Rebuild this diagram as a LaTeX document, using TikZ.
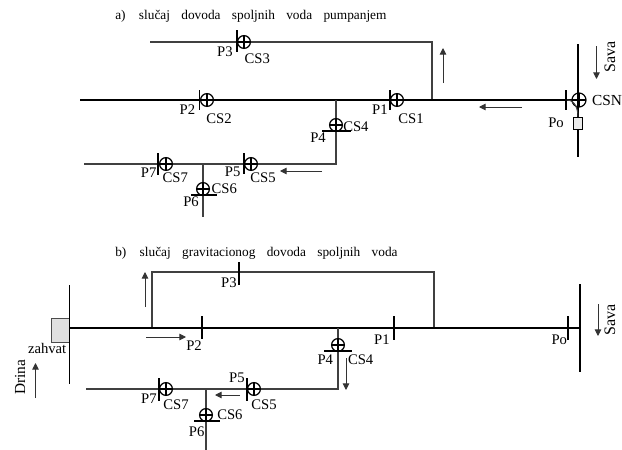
\documentclass[tikz,border=0pt]{standalone}
\usepackage{fontspec}
\setmainfont{Liberation Serif}
\usetikzlibrary{arrows.meta, positioning}

\begin{document}
\begin{tikzpicture}[
        x=0.75pt, y=-0.75pt,
        % Text sizes
        lbl/.style = {font=\fontsize{11}{12}\selectfont, inner sep=0pt},
        river/.style = {font=\fontsize{12}{14}\selectfont, inner sep=0pt, rotate=90},
        head/.style = {font=\fontsize{10}{11}\selectfont, inner sep=0pt, anchor=west},
        % Pipes
        pipe/.style = {line width=1.2pt, draw=black},
        branch/.style = {line width=0.8pt, draw=black!75},
        tick/.style = {line width=1pt, draw=black},
        bank/.style = {line width=1.2pt, draw=black},
        % Flow arrows
        flow/.style = {-{Stealth[length=5pt, width=5pt, inset=0pt]}, line width=0.7pt, draw=black!80},
        % Pumping station
        gauge/.style = {
            circle, draw, line width=0.9pt, inner sep=0pt, minimum size=9.6pt,
            path picture={
                \draw [line width=0.9pt] (path picture bounding box.north) -- (path picture bounding box.south);
                \draw [line width=0.9pt] (path picture bounding box.west) -- (path picture bounding box.east);
            }
        }
    ]
        \clip (0,0) rectangle (622,450);

        % a) Points of the network
        \coordinate (mainLa) at (80,100);
        \coordinate (mainRa) at (578,100);
        \coordinate (topLa) at (150,42);
        \coordinate (topRa) at (432,42);
        \coordinate (topDa) at (432,100);
        \coordinate (brUa) at (336,100);
        \coordinate (brCa) at (336,164);
        \coordinate (lowLa) at (84,164);
        \coordinate (teeUa) at (203,164);
        \coordinate (teeDa) at (203,217);
        \coordinate (savaTa) at (578,44);
        \coordinate (savaBa) at (578,157);

        % a) Pipes
        \draw [branch] (topLa) -- (topRa) -- (topDa);
        \draw [pipe] (mainLa) -- (mainRa);
        \draw [branch] (brUa) -- (brCa) -- (lowLa);
        \draw [branch] (teeUa) -- (teeDa);
        \draw [bank] (savaTa) -- (savaBa);

        % a) Stations
        \node (gS1a) [gauge] at (397,100) {};
        \node (gS2a) [gauge] at (207,100) {};
        \node (gS3a) [gauge] at (244,42) {};
        \node (gS4a) [gauge] at (336,125) {};
        \node (gS5a) [gauge] at (251,164) {};
        \node (gS6a) [gauge] at (203,189) {};
        \node (gS7a) [gauge] at (166,164) {};
        \node (gSNa) [gauge, minimum size=10.5pt] at (579,100) {};
        \node (boxa) [draw, line width=0.7pt, minimum width=6.5pt, minimum height=9pt, inner sep=0pt, fill=black!8] at (578,123) {};

        % a) Measuring profiles
        \coordinate (p1Ta) at (390,90); \coordinate (p1Ba) at (390,110);
        \coordinate (p2Ta) at (199.5,90); \coordinate (p2Ba) at (199.5,110);
        \coordinate (p3Ta) at (237,30); \coordinate (p3Ba) at (237,52);
        \coordinate (p4La) at (322,131); \coordinate (p4Ra) at (351,131);
        \coordinate (p5Ta) at (244,153); \coordinate (p5Ba) at (244,174);
        \coordinate (p6La) at (191,195); \coordinate (p6Ra) at (217,195);
        \coordinate (p7Ta) at (158,153); \coordinate (p7Ba) at (158,175);
        \coordinate (poTa) at (566,90); \coordinate (poBa) at (566,110);
        \draw [tick] (p1Ta) -- (p1Ba);
        \draw [tick] (p2Ta) -- (p2Ba);
        \draw [tick] (p3Ta) -- (p3Ba);
        \draw [tick] (p4La) -- (p4Ra);
        \draw [tick] (p5Ta) -- (p5Ba);
        \draw [tick] (p6La) -- (p6Ra);
        \draw [tick] (p7Ta) -- (p7Ba);
        \draw [tick] (poTa) -- (poBa);
        \draw [branch] (567,100) to[out=0, in=90] (boxa);

        % a) Labels
        \node (heada) [head] at (115,16) {\spaceskip=0.85em\relax a)\hspace{1em}slučaj dovoda spoljnih voda pumpanjem};
        \node [lbl, left=1.5pt of p1Ba] {P1};
        \node [lbl, left=3pt of p2Ba] {P2};
        \node [lbl, left=3pt of p3Ba] {P3};
        \node [lbl, below=1.5pt of p4La, xshift=-3pt] {P4};
        \node [lbl, left=2.5pt of p5Ba, yshift=1.5pt] {P5};
        \node [lbl, below=1.5pt of p6La, xshift=0pt] {P6};
        \node [lbl, left=1pt of p7Ba, yshift=2pt] {P7};
        \node [lbl, below=6pt of poBa, xshift=-7.5pt] {Po};
        \node [lbl, below=5pt of gS1a, xshift=10.5pt] {CS1};
        \node [lbl, below=5pt of gS2a, xshift=9pt] {CS2};
        \node [lbl, below=3.5pt of gS3a, xshift=10pt] {CS3};
        \node [lbl, right=0pt of gS4a, yshift=-1.5pt] {CS4};
        \node [lbl, below=1.5pt of gS5a, xshift=9pt] {CS5};
        \node [lbl, right=1pt of gS6a] {CS6};
        \node [lbl, below=1.5pt of gS7a, xshift=7pt] {CS7};
        \node [lbl, right=4pt of gSNa, font=\fontsize{11.5}{14}\selectfont] {CSN};
        \node [river] at (610,57) {Sava};

        % a) Flow directions
        \coordinate (f1Sa) at (443,83); \coordinate (f1Ea) at (443,48);
        \coordinate (f2Sa) at (522,107); \coordinate (f2Ea) at (479,107);
        \coordinate (f3Sa) at (322,171); \coordinate (f3Ea) at (280,171);
        \coordinate (f4Sa) at (596.5,46); \coordinate (f4Ea) at (596.5,79);
        \draw [flow] (f1Sa) -- (f1Ea);
        \draw [flow] (f2Sa) -- (f2Ea);
        \draw [flow] (f3Sa) -- (f3Ea);
        \draw [flow] (f4Sa) -- (f4Ea);

        % b) Points of the network
        \coordinate (mainLb) at (70,328);
        \coordinate (mainRb) at (580,328);
        \coordinate (topUb) at (152,328);
        \coordinate (topLb) at (152,272);
        \coordinate (topRb) at (434,272);
        \coordinate (topDb) at (434,328);
        \coordinate (brUb) at (338,328);
        \coordinate (brCb) at (338,389);
        \coordinate (lowLb) at (86,389);
        \coordinate (teeUb) at (206,389);
        \coordinate (teeDb) at (206,450);
        \coordinate (drinaTb) at (69.5,285);
        \coordinate (drinaBb) at (69.5,384);
        \coordinate (savaTb) at (580,284);
        \coordinate (savaBb) at (580,372);

        % b) Pipes
        \node (intake) [draw=black!70, line width=0.7pt, fill=black!12, minimum width=14pt, minimum height=18pt, inner sep=0pt] at (60.5,330) {};
        \draw [branch] (topUb) -- (topLb) -- (topRb) -- (topDb);
        \draw [pipe] (mainLb) -- (mainRb);
        \draw [branch, line width=1pt] (brUb) -- (brCb) -- (lowLb);
        \draw [branch] (teeUb) -- (teeDb);
        \draw [bank] (drinaTb) -- (drinaBb);
        \draw [bank, line width=1.6pt] (savaTb) -- (savaBb);

        % b) Stations
        \node (gS4b) [gauge] at (338,345) {};
        \node (gS5b) [gauge] at (254,389) {};
        \node (gS6b) [gauge] at (206,415) {};
        \node (gS7b) [gauge] at (166,389) {};

        % b) Measuring profiles
        \coordinate (p1Tb) at (394,316); \coordinate (p1Bb) at (394,340);
        \coordinate (p2Tb) at (202,316); \coordinate (p2Bb) at (202,339);
        \coordinate (p3Tb) at (239,262); \coordinate (p3Bb) at (239,285);
        \coordinate (p4Lb) at (324,351); \coordinate (p4Rb) at (352,351);
        \coordinate (p5Tb) at (247,378); \coordinate (p5Bb) at (247,401);
        \coordinate (p6Lb) at (194,421); \coordinate (p6Rb) at (220,421);
        \coordinate (p7Tb) at (159,378); \coordinate (p7Bb) at (159,401);
        \coordinate (poTb) at (568,316); \coordinate (poBb) at (568,340);
        \draw [tick] (p1Tb) -- (p1Bb);
        \draw [tick] (p2Tb) -- (p2Bb);
        \draw [tick] (p3Tb) -- (p3Bb);
        \draw [tick] (p4Lb) -- (p4Rb);
        \draw [tick] (p5Tb) -- (p5Bb);
        \draw [tick] (p6Lb) -- (p6Rb);
        \draw [tick] (p7Tb) -- (p7Bb);
        \draw [tick] (poTb) -- (poBb);

        % b) Labels
        \node (headb) [head] at (115,253) {\spaceskip=0.85em\relax b)\hspace{1em}slučaj gravitacionog dovoda spoljnih voda};
        \node [lbl, left=3pt of p1Bb] {P1};
        \node [lbl, below=1pt of p2Bb, xshift=-6pt] {P2};
        \node [lbl, left=1.5pt of p3Bb, yshift=2pt] {P3};
        \node [lbl, below=3pt of p4Lb, xshift=1pt] {P4};
        \node [lbl, above left=-4pt and 1.5pt of p5Tb] {P5};
        \node [lbl, below=4.5pt of p6Lb, xshift=2pt] {P6};
        \node [lbl, left=1.5pt of p7Bb, yshift=2pt] {P7};
        \node [lbl, left=0.5pt of poBb] {Po};
        \node [lbl, below=2pt of gS4b, xshift=17pt] {CS4};
        \node [lbl, below=3pt of gS5b, xshift=7.5pt] {CS5};
        \node [lbl, right=3pt of gS6b] {CS6};
        \node [lbl, below=3pt of gS7b, xshift=7.5pt] {CS7};
        \node (zahvatb) [lbl, below=0.5pt of intake, xshift=-10pt] {zahvat};
        \node [river, font=\fontsize{11.5}{14}\selectfont] at (20,377) {Drina};
        \node [river] at (610,320) {Sava};

        % b) Flow directions
        \coordinate (f1Sb) at (145,307); \coordinate (f1Eb) at (145,272);
        \coordinate (f2Sb) at (146,337); \coordinate (f2Eb) at (186,337);
        \coordinate (f3Sb) at (240,395); \coordinate (f3Eb) at (215,395);
        \coordinate (f4Sb) at (346,358); \coordinate (f4Eb) at (346,390);
        \coordinate (f5Sb) at (35.5,398); \coordinate (f5Eb) at (35.5,363);
        \coordinate (f6Sb) at (598,304); \coordinate (f6Eb) at (598,336);
        \draw [flow] (f1Sb) -- (f1Eb);
        \draw [flow] (f2Sb) -- (f2Eb);
        \draw [flow] (f3Sb) -- (f3Eb);
        \draw [flow] (f4Sb) -- (f4Eb);
        \draw [flow] (f5Sb) -- (f5Eb);
        \draw [flow] (f6Sb) -- (f6Eb);

    \end{tikzpicture}
\end{document}
